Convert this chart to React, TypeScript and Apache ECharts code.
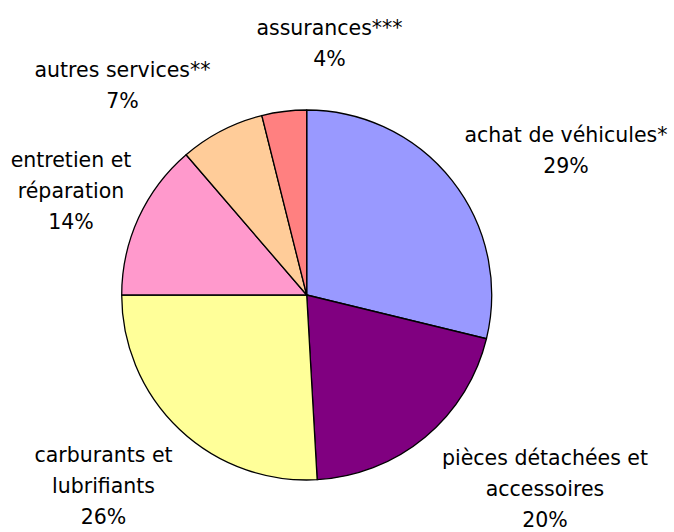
import React, { useEffect, useRef } from "react";
import * as echarts from "echarts";

const CATEGORIES = [
  "achat de véhicules*",
  "pièces détachées et\naccessoires",
  "carburants et\nlubrifiants",
  "entretien et\nréparation",
  "autres services**",
  "assurances***",
];
const VALUES = [28.8, 20.3, 25.9, 13.7, 7.4, 3.9];
const COLORS = ["#9999FF", "#800080", "#FFFF99", "#FF99CC", "#FFCC99", "#FF8080"];
// label block centres (layout/style, not data)
const LABEL_POS: [number, number][] = [
  [566, 150.5],
  [545, 488.5],
  [103.5, 485.6],
  [71, 191],
  [122.5, 85.7],
  [329.5, 43.5],
];

export default function App() {
  const ref = useRef<HTMLDivElement>(null);
  useEffect(() => {
    if (!ref.current) return;
    const chart = echarts.init(ref.current, undefined, { renderer: "svg" });
    chart.setOption({
      animation: false,
      backgroundColor: "#ffffff",
      series: [
        {
          type: "pie",
          center: [306.7, 295],
          radius: 185,
          startAngle: 90,
          clockwise: true,
          avoidLabelOverlap: false,
          data: CATEGORIES.map((name, i) => ({
            name,
            value: VALUES[i],
            itemStyle: { color: COLORS[i] },
          })),
          itemStyle: { borderColor: "#000000", borderWidth: 1.3 },
          label: {
            show: true,
            position: "outside",
            formatter: (p: any) => `${p.name}\n${Math.round(p.percent)}%`,
            fontFamily: "'DejaVu Sans', sans-serif",
            fontSize: 20.5,
            lineHeight: 31,
            color: "#000000",
            align: "center",
          },
          labelLine: { show: false },
          labelLayout: (params: any) => ({
            x: LABEL_POS[params.dataIndex][0],
            y: LABEL_POS[params.dataIndex][1],
            align: "center",
            verticalAlign: "middle",
          }),
          emphasis: { disabled: true },
        },
      ],
    });
    return () => chart.dispose();
  }, []);
  return (
    <div
      ref={ref}
      style={{ position: "absolute", left: 0, top: 0, width: 674, height: 532 }}
    />
  );
}
